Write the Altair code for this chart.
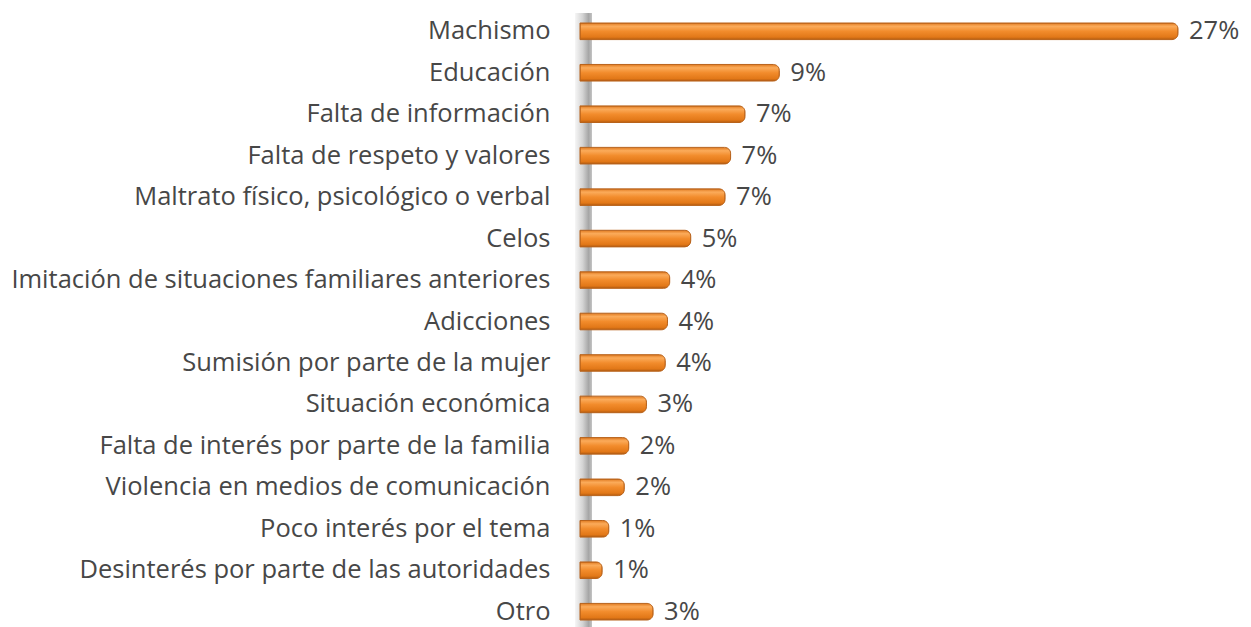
import altair as alt
import pandas as pd

categories = [
    "Machismo",
    "Educación",
    "Falta de información",
    "Falta de respeto y valores",
    "Maltrato físico, psicológico o verbal",
    "Celos",
    "Imitación de situaciones familiares anteriores",
    "Adicciones",
    "Sumisión por parte de la mujer",
    "Situación económica",
    "Falta de interés por parte de la familia",
    "Violencia en medios de comunicación",
    "Poco interés por el tema",
    "Desinterés por parte de las autoridades",
    "Otro",
]
values = [27.0, 9.0, 7.45, 6.8, 6.55, 5.0, 4.05, 3.95, 3.85, 3.0, 2.2, 2.0, 1.3, 1.0, 3.3]
labels = ["27%", "9%", "7%", "7%", "7%", "5%", "4%", "4%", "4%", "3%", "2%", "2%", "1%", "1%", "3%"]

df = pd.DataFrame({"cat": categories, "val": values, "lab": labels})

FONT = "Open Sans"
TXT = "#474747"
FS = 25.5
W = 598
H = 597

base = alt.Chart(df)

y_enc = alt.Y(
    "cat:N",
    sort=None,
    title=None,
    scale=alt.Scale(paddingInner=0.6, paddingOuter=0),
    axis=alt.Axis(
        ticks=False,
        domain=False,
        grid=False,
        labelFontSize=FS,
        labelFont=FONT,
        labelColor=TXT,
        labelPadding=30,
        labelLimit=800,
    ),
)
x_enc = alt.X("val:Q", scale=alt.Scale(domain=[0, 27]), axis=None)

wall = alt.Chart(pd.DataFrame({"a": [0]})).mark_rect(
    fill={
        "gradient": "linear",
        "x1": 0, "y1": 0, "x2": 1, "y2": 0,
        "stops": [
            {"offset": 0, "color": "#f6f6f6"},
            {"offset": 0.45, "color": "#d4d4d4"},
            {"offset": 0.8, "color": "#a6a6a6"},
            {"offset": 1, "color": "#c4c4c4"},
        ],
    }
).encode(
    x=alt.value(-5), x2=alt.value(12), y=alt.value(-10), y2=alt.value(H + 20)
)

bars = base.mark_bar(
    cornerRadiusEnd=6,
    stroke="#b8621a",
    strokeWidth=1,
    fill={
        "gradient": "linear",
        "x1": 0, "y1": 0, "x2": 0, "y2": 1,
        "stops": [
            {"offset": 0, "color": "#e07a20"},
            {"offset": 0.2, "color": "#fbab5a"},
            {"offset": 0.5, "color": "#f28c2c"},
            {"offset": 0.85, "color": "#e27818"},
            {"offset": 1, "color": "#b45c10"},
        ],
    },
).encode(x=x_enc, y=y_enc)

text = base.mark_text(
    align="left", baseline="middle", dx=11, fontSize=FS, font=FONT, color=TXT
).encode(x=x_enc, y=y_enc, text="lab:N")

chart = (
    alt.layer(wall, bars, text)
    .properties(
        width=W,
        height=H,
        view=alt.ViewBackground(stroke="transparent", strokeWidth=0),
        autosize=alt.AutoSizeParams(type="none"),
        padding={"left": 572, "top": 15, "right": 65, "bottom": 11},
    )
    .configure_view(stroke="transparent", strokeWidth=0)
    .configure(background="white")
)

chart.save("out.html", embed_options={"renderer": "svg", "actions": False})
